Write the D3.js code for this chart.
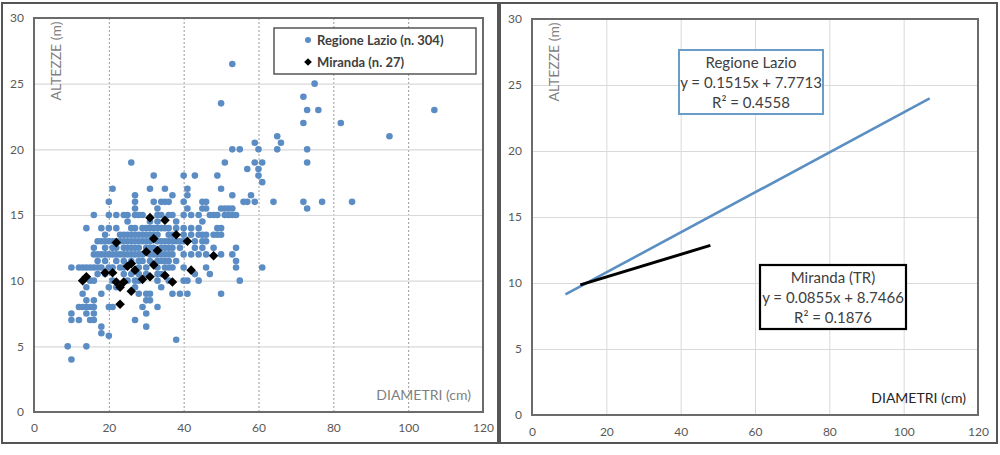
<!DOCTYPE html>
<html>
<head>
<meta charset="utf-8">
<script src="https://cdn.jsdelivr.net/npm/d3@7"></script>
<style>
  body { margin: 0; background: #fff; }
  svg { display: block; font-family: Lato, "Open Sans", sans-serif; }
</style>
</head>
<body>
<div id="chart"></div>
<script>
const xTicks = [0, 20, 40, 60, 80, 100, 120];
const yTicks = [0, 5, 10, 15, 20, 25, 30];
const gridX = [20, 40, 60, 80, 100];
const gridY = [5, 10, 15, 20, 25];

// Regione Lazio (n. 304): rows of [altezza, [diametri]]
const lazioRows = [
  [26.5, [53]],
  [25, [75]],
  [24, [72]],
  [23.5, [50]],
  [23, [73, 76, 107]],
  [22, [72, 82]],
  [21, [65, 95]],
  [20.5, [59, 66]],
  [20, [53, 55, 60, 65, 73]],
  [19, [26, 51, 59, 61, 73]],
  [18.5, [57, 60]],
  [18, [32, 40, 43, 49, 60]],
  [17.5, [61]],
  [17, [21, 31, 35, 41, 50]],
  [16.5, [27, 37, 41, 53, 58]],
  [16, [20, 27, 32, 34, 35, 36, 40, 45, 46, 56, 57, 59, 64, 72, 77, 85]],
  [15.5, [27, 33, 41, 45, 46, 50, 51, 52, 53, 73]],
  [15, [16, 20, 22, 24, 25, 27, 28, 29, 33, 34, 36, 37, 40, 42, 44, 47, 48, 49, 51, 52, 53, 54]],
  [14.5, [25, 31, 33, 38, 45]],
  [14, [14, 18, 20, 22, 26, 27, 29, 30, 31, 32, 33, 34, 35, 36, 38, 40, 42, 44, 49, 50]],
  [13.5, [19, 23, 24, 25, 26, 27, 28, 29, 30, 31, 32, 33, 36, 37, 40, 42, 44, 45, 46, 48, 49, 50]],
  [13, [17, 18, 19, 20, 21, 22, 23, 24, 25, 26, 27, 28, 29, 30, 31, 33, 34, 35, 36, 37, 38, 39, 40, 43, 45, 46]],
  [12.5, [16, 19, 21, 22, 24, 25, 26, 27, 28, 30, 31, 32, 34, 35, 36, 37, 39, 43, 45, 48, 54]],
  [12, [16, 17, 18, 19, 20, 21, 22, 23, 24, 25, 26, 27, 28, 29, 31, 32, 33, 34, 35, 36, 37, 40, 42, 44, 46, 50, 53]],
  [11.5, [17, 19, 22, 24, 26, 28, 29, 31, 33, 34, 35, 36, 38, 54]],
  [11, [10, 12, 13, 14, 15, 16, 17, 18, 20, 21, 23, 24, 28, 30, 33, 35, 36, 37, 40, 46, 54, 61]],
  [10.5, [17, 19, 24, 26, 28, 30, 33, 34, 43, 47]],
  [10, [15, 16, 21, 25, 27, 28, 33, 36, 40, 41, 44, 55]],
  [9.5, [14, 20, 22, 27, 34]],
  [9, [13, 18, 28, 30, 31, 37, 39, 41, 50]],
  [8.5, [14, 16, 30, 31]],
  [8, [12, 13, 14, 15, 16, 20, 21, 29, 33]],
  [7.5, [10, 14, 16, 30]],
  [7, [10, 12, 15, 16, 27]],
  [6.5, [18, 30]],
  [6, [18]],
  [5.8, [20]],
  [5.5, [38]],
  [5, [9, 14]],
  [4, [10]]
];

// Miranda (n. 27)
const mirandaDiam = [13, 14, 19, 21, 22, 22, 23, 24, 23, 25, 26, 26, 27, 29, 30, 31, 32, 32, 31, 33, 35, 35, 37, 38, 41, 42, 48];
const mirandaAlt = [10, 10.3, 10.6, 10.6, 12.9, 9.9, 9.5, 9.9, 8.2, 11.1, 11.3, 9.2, 10.8, 10.1, 12.2, 10.3, 13.2, 11.2, 14.8, 12.3, 14.6, 10.4, 9.9, 13.5, 13, 10.8, 11.9];

// trend lines: [slope, intercept], diameter range
const lazioFit = [0.1515, 7.7713];
const lazioRange = [9, 107];
const mirandaFit = [0.0855, 8.7466];
const mirandaRange = [13, 48];
const lazioLabel = ["Regione Lazio", "y = 0.1515x + 7.7713", "R² = 0.4558"];
const mirandaLabel = ["Miranda (TR)", "y = 0.0855x + 8.7466", "R² = 0.1876"];

const BLUE = "#5b8dc4";
const TICK = "#595959";

let svg = d3.select("#chart").append("svg")
  .attr("width", 1000)
  .attr("height", 455);

// panel frames
svg.append("rect").attr("x", 2).attr("y", 3).attr("width", 496).attr("height", 440)
  .attr("fill", "none").attr("stroke", "#555").attr("stroke-width", 2);
svg.append("rect").attr("x", 500).attr("y", 3).attr("width", 497).attr("height", 440)
  .attr("fill", "none").attr("stroke", "#555").attr("stroke-width", 2);

function drawFrame(x, y, opts) {
  let g = svg.append("g");
  let [x0, x1] = x.range();
  let [y0, y1] = y.range();

  g.append("g")
    .attr("transform", `translate(0,${y0})`)
    .call(d3.axisBottom(x).tickValues(gridX).tickSize(-(y0 - y1)).tickFormat(""))
    .call(a => a.select(".domain").remove())
    .selectAll("line")
    .attr("stroke", opts.vGrid)
    .attr("stroke-dasharray", opts.vDash)
    .attr("stroke-width", 1);

  g.append("g")
    .attr("transform", `translate(${x0},0)`)
    .call(d3.axisLeft(y).tickValues(gridY).tickSize(-(x1 - x0)).tickFormat(""))
    .call(a => a.select(".domain").remove())
    .selectAll("line")
    .attr("stroke", "#d9d9d9")
    .attr("stroke-width", 1.2);

  g.append("rect")
    .attr("x", x0).attr("y", y1)
    .attr("width", x1 - x0).attr("height", y0 - y1)
    .attr("fill", "none").attr("stroke", "#6b6b6b").attr("stroke-width", 2);

  let ax = g.append("g")
    .attr("transform", `translate(0,${y0 + opts.xLabDy})`)
    .call(d3.axisBottom(x).tickValues(xTicks).tickSize(0).tickPadding(0));
  ax.select(".domain").remove();
  ax.selectAll("text").attr("fill", TICK).attr("font-size", 12).attr("font-family", "Lato");

  let ay = g.append("g")
    .attr("transform", `translate(${x0 - 10},0)`)
    .call(d3.axisLeft(y).tickValues(yTicks).tickSize(0).tickPadding(0));
  ay.select(".domain").remove();
  ay.selectAll("text").attr("fill", TICK).attr("font-size", 12).attr("font-family", "Lato");

  g.append("text")
    .attr("transform", `translate(${x0 + 21},${y1 + 43}) rotate(-90)`)
    .attr("text-anchor", "middle")
    .attr("dominant-baseline", "central")
    .attr("fill", "#7f7f7f")
    .attr("font-size", 14)
    .text("ALTEZZE (m)");

  g.append("text")
    .attr("x", x1 - 12).attr("y", y0 - 12)
    .attr("text-anchor", "end")
    .attr("fill", opts.xTitleColor)
    .attr("font-size", 14)
    .text("DIAMETRI (cm)");
}

// ---- left: scatter ----
let xL = d3.scaleLinear().domain([0, 120]).range([34, 483]);
let yL = d3.scaleLinear().domain([0, 30]).range([412, 18]);
drawFrame(xL, yL, { vGrid: "#9a9a9a", vDash: "2,2", xLabDy: 11, xTitleColor: "#7f7f7f" });

let lazioPts = lazioRows.flatMap(r => r[1].map(d => [d, r[0]]));
svg.append("g").selectAll("circle")
  .data(lazioPts)
  .join("circle")
  .attr("cx", d => xL(d[0]))
  .attr("cy", d => yL(d[1]))
  .attr("r", 3.3)
  .attr("fill", BLUE);

let diamond = d3.symbol().type(d3.symbolSquare).size(46);
svg.append("g").selectAll("path")
  .data(mirandaDiam)
  .join("path")
  .attr("d", diamond)
  .attr("transform", (d, i) => `translate(${xL(d)},${yL(mirandaAlt[i])}) rotate(45)`)
  .attr("fill", "#000");

// legend
let leg = svg.append("g");
leg.append("rect").attr("x", 274).attr("y", 28).attr("width", 202).attr("height", 46)
  .attr("fill", "#fff").attr("stroke", "#555").attr("stroke-width", 1.5);
leg.append("circle").attr("cx", 308).attr("cy", 40).attr("r", 3).attr("fill", BLUE);
leg.append("path").attr("d", d3.symbol().type(d3.symbolSquare).size(30))
  .attr("transform", "translate(308,62) rotate(45)").attr("fill", "#000");
leg.append("text").attr("x", 317).attr("y", 45).attr("font-size", 13).attr("font-weight", "bold")
  .attr("fill", "#404040").text("Regione Lazio (n. 304)");
leg.append("text").attr("x", 317).attr("y", 67).attr("font-size", 13).attr("font-weight", "bold")
  .attr("fill", "#404040").text("Miranda (n. 27)");

// ---- right: trend lines ----
let xR = d3.scaleLinear().domain([0, 120]).range([532, 978]);
let yR = d3.scaleLinear().domain([0, 30]).range([415, 19]);
drawFrame(xR, yR, { vGrid: "#d9d9d9", vDash: null, xLabDy: 12, xTitleColor: "#262626" });

let line = d3.line().x(d => xR(d[0])).y(d => yR(d[1]));
svg.append("path")
  .datum(lazioRange.map(d => [d, lazioFit[0] * d + lazioFit[1]]))
  .attr("d", line)
  .attr("fill", "none").attr("stroke", "#5b8fc2").attr("stroke-width", 2.6);
svg.append("path")
  .datum(mirandaRange.map(d => [d, mirandaFit[0] * d + mirandaFit[1]]))
  .attr("d", line)
  .attr("fill", "none").attr("stroke", "#000").attr("stroke-width", 3);

function labelBox(x, y, w, h, stroke, sw, lines) {
  let g = svg.append("g");
  g.append("rect").attr("x", x).attr("y", y).attr("width", w).attr("height", h)
    .attr("fill", "#fff").attr("stroke", stroke).attr("stroke-width", sw);
  g.selectAll("text")
    .data(lines)
    .join("text")
    .attr("x", x + w / 2)
    .attr("y", (d, i) => y + 18 + i * 20)
    .attr("text-anchor", "middle")
    .attr("font-size", 15)
    .attr("fill", "#404040")
    .text(d => d);
}
labelBox(679, 50, 144, 64, "#6a9cc8", 2, lazioLabel);
labelBox(760, 265, 146, 64, "#000", 2.2, mirandaLabel);
</script>
</body>
</html>
